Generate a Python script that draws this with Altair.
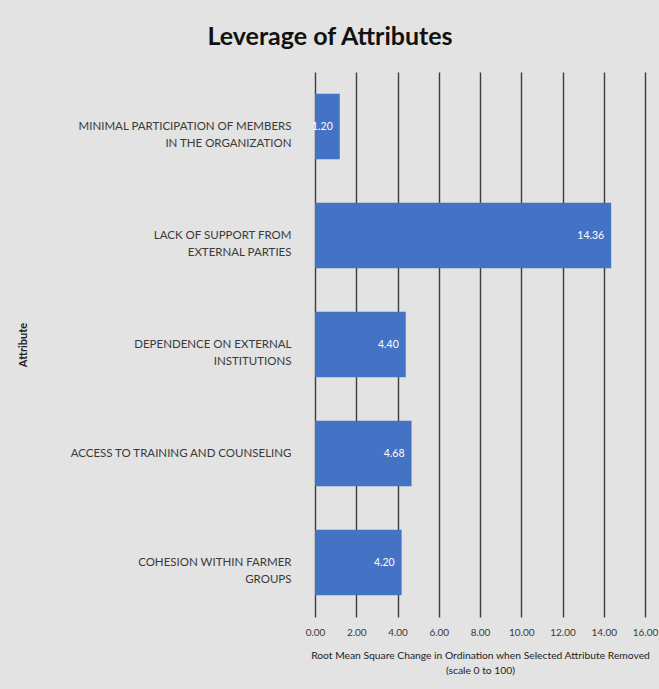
import altair as alt
import pandas as pd

categories = [
    "MINIMAL PARTICIPATION OF MEMBERS|IN THE ORGANIZATION",
    "LACK OF SUPPORT FROM|EXTERNAL PARTIES",
    "DEPENDENCE ON EXTERNAL|INSTITUTIONS",
    "ACCESS TO TRAINING AND COUNSELING",
    "COHESION WITHIN FARMER|GROUPS",
]
values = [1.20, 14.36, 4.40, 4.68, 4.20]
x_ticks = [0, 2, 4, 6, 8, 10, 12, 14, 16]

df = pd.DataFrame({"attribute": categories, "value": values})

BLUE = "#4472C4"
TEXT = "#3a3a3a"

base = alt.Chart(df).encode(
    y=alt.Y(
        "attribute:N",
        sort=categories,
        scale=alt.Scale(paddingInner=0.4, paddingOuter=0.2),
        axis=alt.Axis(
            title="Attribute",
            titleFont="Lato",
            titleFontSize=11,
            titleFontWeight="bold",
            titleColor="#222222",
            titleX=-287,
            labelExpr="split(datum.label, '|')",
            labelFont="Lato",
            labelFontSize=11.5,
            labelColor=TEXT,
            labelPadding=24,
            labelLineHeight=17,
            labelLimit=300,
            ticks=False,
            domain=False,
            grid=False,
        ),
    ),
)

bars = base.mark_bar(color=BLUE).encode(
    x=alt.X(
        "value:Q",
        scale=alt.Scale(domain=[0, 16], nice=False),
        axis=alt.Axis(
            values=x_ticks,
            format=".2f",
            title=["Root Mean Square Change in Ordination when Selected Attribute Removed",
                   "(scale 0 to 100)"],
            titleFont="Lato",
            titleFontSize=10.3,
            titleFontWeight="normal",
            titleColor="#222222",
            titlePadding=13,
            titleLineHeight=15,
            labelFont="Lato",
            labelFontSize=10,
            labelColor=TEXT,
            labelPadding=10,
            labelFlush=False,
            labelOverlap=False,
            ticks=False,
            domain=False,
            grid=True,
            gridColor="#3c3c3c",
            gridWidth=1.4,
        ),
    ),
)

labels = base.mark_text(
    align="right", baseline="middle", dx=-7, color="white", font="Lato", fontSize=10.5
).encode(
    x="value:Q",
    text=alt.Text("value:Q", format=".2f"),
)

chart = (
    alt.layer(bars, labels)
    .properties(
        width=330,
        height=545,
        autosize=alt.AutoSizeParams(type="none"),
        padding={"left": 315, "top": 72, "right": 14, "bottom": 72},
        background="#e3e3e3",
        title=alt.TitleParams(
            "Leverage of Attributes",
            font="Lato",
            fontSize=25,
            fontWeight="bold",
            color="#111111",
            anchor="middle",
            dx=-150,
            offset=22,
        ),
    )
    .configure_view(stroke=None)
)

chart.save("out.html", embed_options={"renderer": "svg", "actions": False})
